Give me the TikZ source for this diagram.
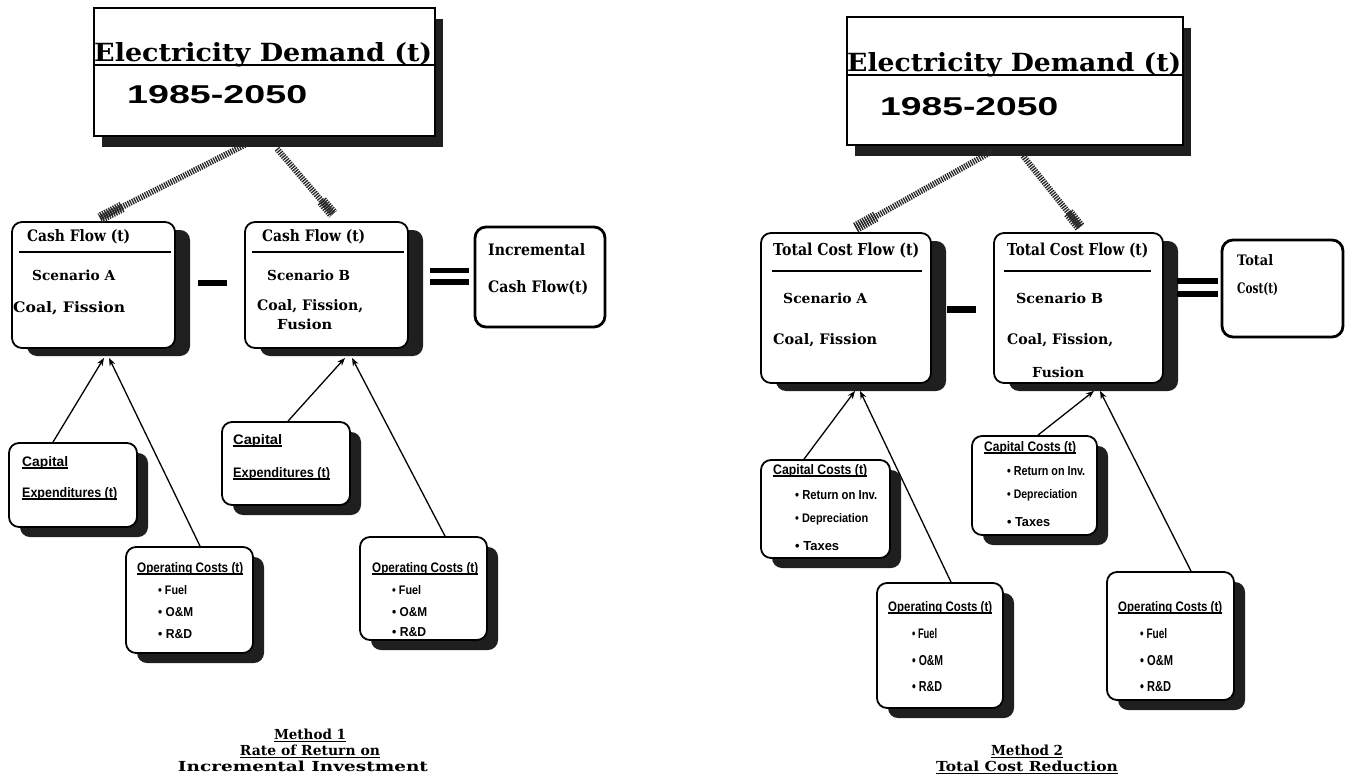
\documentclass[tikz,border=0pt]{standalone}
\usepackage{fontspec}
\usepackage{graphicx}
\usetikzlibrary{shadows,arrows.meta,calc}
\setmainfont{DejaVu Serif}
\newfontfamily\serifx{DejaVu Serif}
\newfontfamily\sansx{Liberation Sans}
\newfontfamily\capx{DejaVu Serif}
\newcommand\putt[6]{\node[anchor=base west,inner sep=0pt] (#1) at (#2) {\resizebox{#3pt}{#4pt}{#5#6}};}
\newcommand\putc[6]{\node[anchor=base,inner sep=0pt] (#1) at (#2) {\resizebox{#3pt}{#4pt}{#5#6}};}
\newcommand\ulput[2][2pt]{\draw[ulw] ([yshift=-#1]#2.base west) -- ([yshift=-#1]#2.base east);}
\tikzset{
  bigbox/.style={draw, line width=1.6pt, fill=white, inner sep=0pt,
    general shadow={fill=black!88, shadow xshift=8pt, shadow yshift=-11pt}},
  rbox/.style={draw, line width=1.8pt, fill=white, rounded corners=10pt, inner sep=0pt,
    general shadow={fill=black!88, shadow xshift=11pt, shadow yshift=-10pt}},
  cbox/.style={draw, line width=1.8pt, fill=white, rounded corners=10pt, inner sep=0pt,
    general shadow={fill=black!88, shadow xshift=15pt, shadow yshift=-8pt}},
  resbox/.style={draw, line width=2.8pt, fill=white, rounded corners=11pt, inner sep=0pt},
  bar/.style={fill=black, inner sep=0pt},
  ulw/.style={line width=1.2pt},
  tline/.style={line width=2pt},
  hatchline/.style={line width=6pt, dash pattern=on 1.3pt off 1.1pt, black!85},
  hatchhead/.style={line width=11pt, dash pattern=on 1.3pt off 1.1pt, black!85},
  arr/.style={line width=1.3pt, -{Stealth[length=8pt,width=6pt]}}
}
\begin{document}
\begin{tikzpicture}[x=1pt,y=-1pt]
\useasboundingbox (0,0) rectangle (1352,784);

% ===================== LEFT: METHOD 1 =====================
\node[bigbox, minimum width=341pt, minimum height=128pt] (topL) at (264.5,72) {};
\draw[tline] ([yshift=7pt]topL.west) -- ([yshift=7pt]topL.east);
\putt{tlA}{94,62}{338}{19}{\serifx\bfseries}{Electricity Demand (t)}
\putt{ylA}{127,103}{180}{18}{\sansx\bfseries}{1985-2050}

\node[cbox, minimum width=163pt, minimum height=126pt] (cashA) at (93.5,285) {};
\node[cbox, minimum width=163pt, minimum height=126pt] (cashB) at (326.5,285) {};
\node[resbox, minimum width=130pt, minimum height=100pt] (incr) at (540,277) {};

\draw[tline] ([xshift=8pt,yshift=33pt]cashA.west) -- ([xshift=-5pt,yshift=33pt]cashA.east);
\draw[tline] ([xshift=8pt,yshift=33pt]cashB.west) -- ([xshift=-5pt,yshift=33pt]cashB.east);
\putt{cA1}{27,241}{103}{12}{\serifx\bfseries}{Cash Flow (t)}
\putt{cA2}{32,280}{83}{10.5}{\serifx\bfseries}{Scenario A}
\putt{cA3}{13,312}{112}{11}{\serifx\bfseries}{Coal, Fission}
\putt{cB1}{262,241}{103}{12}{\serifx\bfseries}{Cash Flow (t)}
\putt{cB2}{267,280}{83}{10.5}{\serifx\bfseries}{Scenario B}
\putt{cB3}{257,310}{106}{11}{\serifx\bfseries}{Coal, Fission,}
\putt{cB4}{277,329}{55}{10.5}{\serifx\bfseries}{Fusion}
\putt{inc1}{488,255}{97}{12}{\serifx\bfseries}{Incremental}
\putt{inc2}{488,292}{100}{12}{\serifx\bfseries}{Cash Flow(t)}

\node[bar, minimum width=29pt, minimum height=6pt] (minL) at (212.5,283) {};
\node[bar, minimum width=39pt, minimum height=5pt] (eqL1) at (449.5,270.5) {};
\node[bar, minimum width=39pt, minimum height=6pt] (eqL2) at (449.5,282) {};

\node[rbox, minimum width=128pt, minimum height=84pt] (ceA) at (73,485) {};
\node[rbox, minimum width=127pt, minimum height=106pt] (ocA) at (189.5,600) {};
\node[rbox, minimum width=128pt, minimum height=83pt] (ceB) at (286,463.5) {};
\node[rbox, minimum width=127pt, minimum height=103pt] (ocB) at (423.5,588.5) {};

\putt{ceA1}{22,466}{46}{10}{\sansx\bfseries}{Capital}\ulput{ceA1}
\putt{ceA2}{22,497}{95}{10}{\sansx\bfseries}{Expenditures (t)}\ulput{ceA2}
\putt{ceB1}{233,444}{49}{10}{\sansx\bfseries}{Capital}\ulput{ceB1}
\putt{ceB2}{233,477}{97}{10}{\sansx\bfseries}{Expenditures (t)}\ulput{ceB2}
\putt{ocA0}{137,572}{106}{10}{\sansx\bfseries}{Operating Costs (t)}\ulput{ocA0}
\putt{ocA1}{158,594}{29}{9}{\sansx\bfseries}{• Fuel}
\putt{ocA2}{158,616}{35}{9}{\sansx\bfseries}{• O\&M}
\putt{ocA3}{158,638}{34}{9}{\sansx\bfseries}{• R\&D}
\putt{ocB0}{372,572}{106}{10}{\sansx\bfseries}{Operating Costs (t)}\ulput{ocB0}
\putt{ocB1}{392,594}{29}{9}{\sansx\bfseries}{• Fuel}
\putt{ocB2}{392,616}{35}{9}{\sansx\bfseries}{• O\&M}
\putt{ocB3}{392,636}{34}{9}{\sansx\bfseries}{• R\&D}

% hatched connectors (left)
\coordinate (hL1s) at ([xshift=-17.5pt,yshift=-7pt]topL.south);
\coordinate (hL1e) at ([xshift=6.5pt,yshift=3pt]cashA.north);
\coordinate (hL2s) at ([xshift=12.5pt,yshift=-12pt]topL.south);
\coordinate (hL2e) at ([xshift=6.5pt,yshift=7pt]cashB.north);
\draw[hatchline] (hL1s) -- (hL1e);
\draw[hatchhead] ($(hL1s)!0.85!(hL1e)$) -- (hL1e);
\draw[hatchline] (hL2s) -- (hL2e);
\draw[hatchhead] ($(hL2s)!0.8!(hL2e)$) -- (hL2e);

% arrows (left)
\draw[arr] ([xshift=-20pt]ceA.north) -- ([xshift=10.5pt,yshift=-9pt]cashA.south);
\draw[arr] ([xshift=10.5pt]ocA.north) -- ([xshift=15.5pt,yshift=-9pt]cashA.south);
\draw[arr] ([xshift=2pt]ceB.north) -- ([xshift=18.5pt,yshift=-9pt]cashB.south);
\draw[arr] ([xshift=21.5pt]ocB.north) -- ([xshift=25.5pt,yshift=-9pt]cashB.south);

% captions (left)
\putc{m1a}{310,739}{72}{10.5}{\capx\bfseries}{Method 1}\ulput[2.5pt]{m1a}
\putc{m1b}{310,755}{140}{10.5}{\capx\bfseries}{Rate of Return on}\ulput[2.5pt]{m1b}
\putc{m1c}{303,771}{250}{10.5}{\capx\bfseries}{Incremental Investment}

% ===================== RIGHT: METHOD 2 =====================
\node[bigbox, minimum width=336pt, minimum height=128pt] (topR) at (1015,81) {};
\draw[tline] ([yshift=6pt]topR.west) -- ([yshift=6pt]topR.east);
\putt{tlB}{847,71}{334}{19}{\serifx\bfseries}{Electricity Demand (t)}
\putt{ylB}{880,115}{178}{18}{\sansx\bfseries}{1985-2050}

\node[cbox, minimum width=170pt, minimum height=150pt] (totA) at (846,308) {};
\node[cbox, minimum width=169pt, minimum height=150pt] (totB) at (1078.5,308) {};
\node[resbox, minimum width=121pt, minimum height=97pt] (totC) at (1282.5,288.5) {};

\draw[tline] ([xshift=12pt,yshift=37pt]totA.west) -- ([xshift=-10pt,yshift=37pt]totA.east);
\draw[tline] ([xshift=11pt,yshift=37pt]totB.west) -- ([xshift=-13pt,yshift=37pt]totB.east);
\putt{tA1}{773,255}{146}{12.5}{\serifx\bfseries}{Total Cost Flow (t)}
\putt{tA2}{783,303}{84}{10.5}{\serifx\bfseries}{Scenario A}
\putt{tA3}{773,344}{104}{11}{\serifx\bfseries}{Coal, Fission}
\putt{tB1}{1007,255}{141}{12.5}{\serifx\bfseries}{Total Cost Flow (t)}
\putt{tB2}{1016,303}{87}{10.5}{\serifx\bfseries}{Scenario B}
\putt{tB3}{1007,344}{106}{11}{\serifx\bfseries}{Coal, Fission,}
\putt{tB4}{1032,377}{52}{10.5}{\serifx\bfseries}{Fusion}
\putt{tt1}{1237,265}{36}{11}{\serifx\bfseries}{Total}
\putt{tt2}{1237,293}{41}{11}{\serifx\bfseries}{Cost(t)}

\node[bar, minimum width=29pt, minimum height=7pt] (minR) at (961.5,309.5) {};
\node[bar, minimum width=41pt, minimum height=6pt] (eqR1) at (1197.5,281) {};
\node[bar, minimum width=41pt, minimum height=6pt] (eqR2) at (1197.5,294) {};

\node[rbox, minimum width=129pt, minimum height=98pt] (ccA) at (825.5,509) {};
\node[rbox, minimum width=126pt, minimum height=125pt] (orA) at (940,645.5) {};
\node[rbox, minimum width=125pt, minimum height=99pt] (ccB) at (1034.5,485.5) {};
\node[rbox, minimum width=127pt, minimum height=128pt] (orB) at (1170.5,636) {};

\putt{ccA0}{773,474}{94}{10}{\sansx\bfseries}{Capital Costs (t)}\ulput{ccA0}
\putt{ccA1}{795,499}{82}{9}{\sansx\bfseries}{• Return on Inv.}
\putt{ccA2}{795,522}{73}{9}{\sansx\bfseries}{• Depreciation}
\putt{ccA3}{795,550}{44}{9}{\sansx\bfseries}{• Taxes}
\putt{ccB0}{984,451}{92}{10}{\sansx\bfseries}{Capital Costs (t)}\ulput{ccB0}
\putt{ccB1}{1007,475}{78}{9}{\sansx\bfseries}{• Return on Inv.}
\putt{ccB2}{1007,498}{70}{9}{\sansx\bfseries}{• Depreciation}
\putt{ccB3}{1007,526}{43}{9}{\sansx\bfseries}{• Taxes}
\putt{orA0}{888,611}{104}{10}{\sansx\bfseries}{Operating Costs (t)}\ulput{orA0}
\putt{orA1}{912,638}{25}{10}{\sansx\bfseries}{• Fuel}
\putt{orA2}{912,665}{31}{10}{\sansx\bfseries}{• O\&M}
\putt{orA3}{912,691}{30}{10}{\sansx\bfseries}{• R\&D}
\putt{orB0}{1118,611}{104}{10}{\sansx\bfseries}{Operating Costs (t)}\ulput{orB0}
\putt{orB1}{1140,638}{27}{10}{\sansx\bfseries}{• Fuel}
\putt{orB2}{1140,665}{33}{10}{\sansx\bfseries}{• O\&M}
\putt{orB3}{1140,691}{31}{10}{\sansx\bfseries}{• R\&D}

% hatched connectors (right)
\coordinate (hR1s) at ([xshift=-22pt,yshift=-5pt]topR.south);
\coordinate (hR1e) at ([xshift=9pt,yshift=4pt]totA.north);
\coordinate (hR2s) at ([xshift=8pt,yshift=-10pt]topR.south);
\coordinate (hR2e) at ([xshift=1.5pt,yshift=5pt]totB.north);
\draw[hatchline] (hR1s) -- (hR1e);
\draw[hatchhead] ($(hR1s)!0.85!(hR1e)$) -- (hR1e);
\draw[hatchline] (hR2s) -- (hR2e);
\draw[hatchhead] ($(hR2s)!0.8!(hR2e)$) -- (hR2e);

% arrows (right)
\draw[arr] ([xshift=-21.5pt]ccA.north) -- ([xshift=9pt,yshift=-7pt]totA.south);
\draw[arr] ([xshift=11pt]orA.north) -- ([xshift=14pt,yshift=-7pt]totA.south);
\draw[arr] ([xshift=3.5pt]ccB.north) -- ([xshift=15.5pt,yshift=-7pt]totB.south);
\draw[arr] ([xshift=20.5pt]orB.north) -- ([xshift=21.5pt,yshift=-7pt]totB.south);

% captions (right)
\putc{m2a}{1027,755}{72}{10.5}{\capx\bfseries}{Method 2}\ulput[2.5pt]{m2a}
\putc{m2b}{1027,771}{182}{10.5}{\capx\bfseries}{Total Cost Reduction}\ulput[2.5pt]{m2b}
\end{tikzpicture}
\end{document}
